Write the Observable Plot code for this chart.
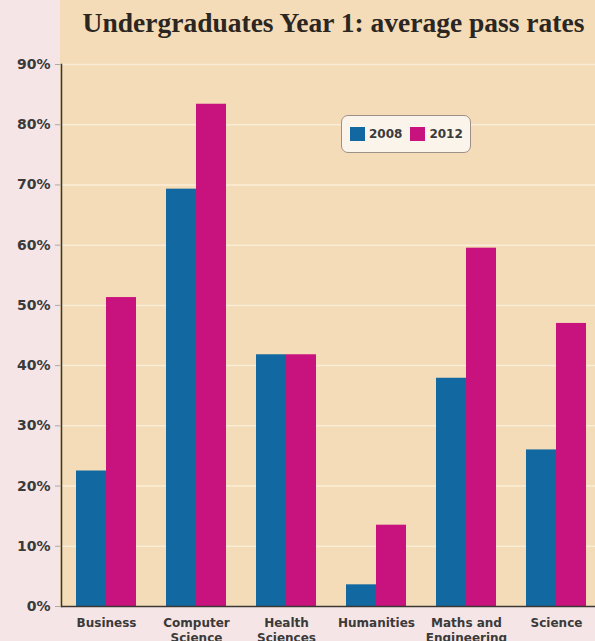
<!DOCTYPE html>
<html>
<head>
<meta charset="utf-8">
<script src="https://cdn.jsdelivr.net/npm/d3@7"></script>
<script src="https://cdn.jsdelivr.net/npm/@observablehq/plot@0.6"></script>
<style>
  html, body { margin: 0; padding: 0; }
  #wrap { position: relative; width: 595px; height: 641px; background: #f6e5e6; overflow: hidden; }
  #panel { position: absolute; left: 60px; top: 0; width: 535px; height: 606px; background: #f3dcb7; }
  #title { position: relative; height: 48px; box-sizing: border-box; padding-top: 7px; padding-left: 72px;
           text-align: center; font-family: "Liberation Serif", serif; font-weight: bold; font-size: 27.5px;
           color: #2b2621; white-space: nowrap; }
  #chart { position: relative; }
  #legend { position: absolute; left: 341px; top: 115px; width: 130px; height: 38px; box-sizing: border-box;
            border: 1.5px solid #9d9088; border-radius: 7px; background: #fbf4ea;
            display: flex; align-items: center; padding-left: 8px;
            font-family: "DejaVu Sans", sans-serif; font-weight: bold; font-size: 12px; color: #3a3a3a; }
  .sw { display: inline-block; width: 15px; height: 14px; margin-right: 4px; }
  .it { display: flex; align-items: center; margin-right: 8px; }
</style>
</head>
<body>
<div id="wrap">
  <div id="panel"></div>
  <div id="title">Undergraduates Year 1: average pass rates</div>
  <div id="chart"></div>
  <div id="legend"></div>
</div>
<script>
const categories = ["Business", "Computer Science", "Health Sciences", "Humanities", "Maths and Engineering", "Science"];
const categoryLabels = ["Business", "Computer\nScience", "Health\nSciences", "Humanities", "Maths and\nEngineering", "Science"];
const years = ["2008", "2012"];
const values2008 = [22.5, 69.3, 41.8, 3.6, 37.9, 26.0];
const values2012 = [51.3, 83.4, 41.8, 13.5, 59.5, 47.0];
const yTicks = [0, 10, 20, 30, 40, 50, 60, 70, 80, 90];
const colors = ["#1268a0", "#c8137e"];

const rows = [];
categories.forEach((c, i) => {
  rows.push({category: c, year: years[0], value: values2008[i]});
  rows.push({category: c, year: years[1], value: values2012[i]});
});
const labelOf = new Map(categories.map((c, i) => [c, categoryLabels[i]]));

const chart = Plot.plot({
  width: 595,
  height: 593,
  marginLeft: 60,
  marginRight: -6,
  marginTop: 16,
  marginBottom: 35,
  style: {background: "transparent", overflow: "visible"},
  fx: {domain: categories, paddingInner: 0, paddingOuter: 0, axis: null, label: null},
  x: {domain: years, paddingInner: 0, paddingOuter: 0.48, axis: null},
  y: {domain: [0, 90], axis: null},
  color: {domain: years, range: colors},
  marks: [
    Plot.gridY(yTicks, {stroke: "#fff8ec", strokeOpacity: 0.6, strokeWidth: 1.5}),
    Plot.barY(rows, {fx: "category", x: "year", y: "value", fill: "year", inset: 0}),
    Plot.ruleY([0], {stroke: "#3b3632", strokeWidth: 1.5}),
    Plot.frame({anchor: "left", facet: "super", stroke: "#3b3632", strokeWidth: 1.5}),
    Plot.axisY(yTicks, {
      tickFormat: d => d + "%", tickSize: 6, tickPadding: 5, stroke: "#b0a8a0", fill: "#3a3a3a",
      fontSize: 14, fontWeight: "bold", fontFamily: "DejaVu Sans", label: null
    }),
    Plot.axisFx({
      anchor: "bottom", tickSize: 0, tickPadding: 9, tickFormat: d => labelOf.get(d), fill: "#3a3a3a",
      fontSize: 12, fontWeight: "bold", fontFamily: "DejaVu Sans", lineHeight: 1.3, label: null
    })
  ]
});
document.getElementById("chart").appendChild(chart);

const legend = document.getElementById("legend");
years.forEach((y, i) => {
  const it = document.createElement("span");
  it.className = "it";
  const sw = document.createElement("span");
  sw.className = "sw";
  sw.style.background = colors[i];
  it.appendChild(sw);
  it.appendChild(document.createTextNode(y));
  legend.appendChild(it);
});
</script>
</body>
</html>
